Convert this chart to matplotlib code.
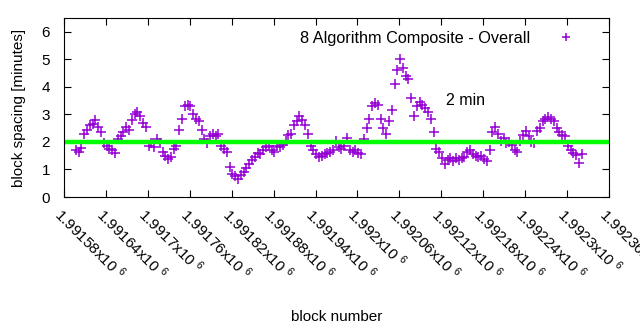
import numpy as np
import matplotlib
matplotlib.use('Agg')
import matplotlib.pyplot as plt
from matplotlib.ticker import FuncFormatter, MultipleLocator

plt.rcParams['font.family'] = ['Liberation Sans', 'DejaVu Sans']
plt.rcParams['font.size'] = 11

# block numbers (every 4th block) and the spacing before each, in minutes
first_block = 1991597
block_step = 4
spacing = [
    1.72, 1.65, 1.78, 2.3, 2.45, 2.6, 2.65, 2.8, 2.55, 2.35,
    1.95, 1.85, 1.75, 1.7, 1.6, 2.1, 2.2, 2.35, 2.55, 2.45,
    2.8, 3.0, 3.1, 2.95, 2.7, 2.55, 1.85, 1.95, 1.8, 2.1,
    1.95, 1.65, 1.5, 1.38, 1.45, 1.75, 1.85, 2.45, 2.85, 3.3,
    3.35, 3.3, 3.0, 2.85, 2.75, 2.45, 2.1, 1.95, 2.2, 2.3,
    2.2, 2.3, 1.85, 1.75, 1.62, 1.1, 0.85, 0.75, 0.65, 0.8,
    0.9, 1.05, 1.2, 1.35, 1.45, 1.6, 1.55, 1.72, 1.8, 1.85,
    1.7, 1.65, 1.85, 1.82, 1.9, 2.05, 2.25, 2.3, 2.6, 2.75,
    2.95, 2.8, 2.6, 2.3, 1.85, 1.7, 1.55, 1.45, 1.5, 1.55,
    1.6, 1.65, 1.7, 2.05, 1.8, 1.75, 1.85, 2.15, 1.7, 1.65,
    1.7, 1.6, 1.55, 2.1, 2.5, 2.85, 3.3, 3.4, 3.35, 2.85,
    2.5, 2.3, 2.75, 3.15, 4.1, 4.6, 5.0, 4.7, 4.4, 4.3,
    3.6, 2.95, 3.3, 3.45, 3.35, 3.25, 3.1, 2.85, 2.35, 1.75,
    1.65, 1.4, 1.2, 1.35, 1.4, 1.3, 1.4, 1.35, 1.42, 1.45,
    1.65, 1.72, 1.55, 1.5, 1.45, 1.5, 1.38, 1.3, 1.72, 2.35,
    2.55, 2.3, 2.05, 2.15, 1.95, 2.0, 1.9, 1.7, 1.65, 2.05,
    2.25, 2.4, 2.2, 2.0, 1.95, 2.4, 2.5, 2.75, 2.85, 2.92,
    2.85, 2.75, 2.5, 2.35, 2.25, 2.2, 1.85, 1.7, 1.6, 1.52,
    1.25, 1.55,
]
blocks = first_block + block_step * np.arange(len(spacing))

target = 2.0
x_min, x_max = 1991580, 1992360

fig = plt.figure(figsize=(6.4, 3.3), dpi=100)
ax = fig.add_axes([0.1, 0.403, 0.8516, 0.542])

ax.plot(blocks, spacing, '+', color='#9400d3', ms=7.5, mew=1.1,
        label='8 Algorithm Composite - Overall')
ax.plot([x_min, x_max], [target, target], color='#00ff00', lw=3.2)
ax.text(1992127, 3.49, '2 min', va='center', ha='left', fontsize=11.5)

ax.set_xlim(x_min, x_max)
ax.set_ylim(0, 6.5)
ax.xaxis.set_major_locator(MultipleLocator(60))
ax.yaxis.set_major_locator(MultipleLocator(1))
ax.xaxis.set_major_formatter(FuncFormatter(
    lambda v, p: f'{v / 1e6:g}x10 $\\mathregular{{^{{6}}}}$'))
ax.tick_params(direction='in', length=5, top=True, right=True, width=0.8)
ax.tick_params(axis='y', pad=10)
ax.tick_params(axis='x', pad=6)
for lbl in ax.get_xticklabels():
    lbl.set_rotation(-45)
    lbl.set_ha('left')
    lbl.set_va('top')
    lbl.set_rotation_mode('anchor')

ax.set_xlabel('block number', labelpad=19)
ax.set_ylabel('block spacing [minutes]', labelpad=11)

ax.legend(loc='upper right', frameon=False, markerfirst=False,
          bbox_to_anchor=(0.966, 1.01), handlelength=1.2, handletextpad=1.6,
          markerscale=0.8, fontsize=11.7)

fig.savefig('out.png', dpi=100)
